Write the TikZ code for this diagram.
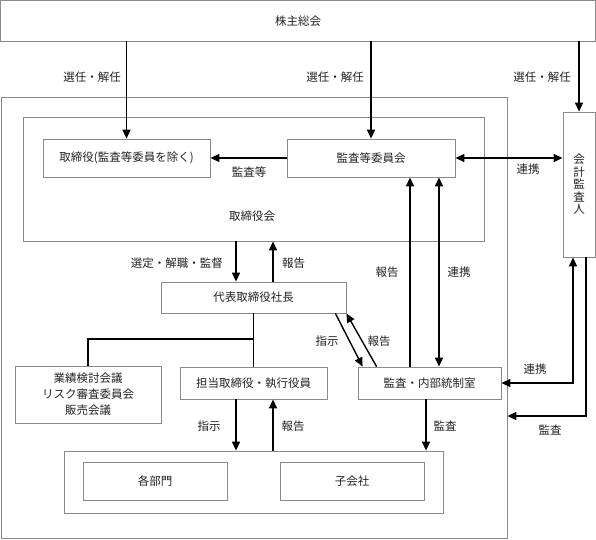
\documentclass[tikz,border=0pt]{standalone}
\usepackage{fontspec}
\setmainfont{Noto Sans CJK JP}
\usetikzlibrary{arrows.meta,calc}
\definecolor{boxgray}{HTML}{8A8A8A}
\definecolor{txt}{HTML}{222222}
\newcommand\jfont{\fontsize{11.5}{16}\selectfont}
\begin{document}
\begin{tikzpicture}[x=1pt,y=-1pt,
  box/.style={draw=boxgray, line width=0.8pt, inner sep=0pt, font=\jfont, text=txt, align=center},
  arr/.style={line width=1.4pt, -{Triangle[length=9pt,width=8pt]}},
  darr/.style={line width=1.4pt, {Triangle[length=9pt,width=8pt]}-{Triangle[length=9pt,width=8pt]}},
  ln/.style={line width=1.4pt},
  lbl/.style={font=\jfont, text=txt, inner sep=0pt}]
\useasboundingbox (0,0) rectangle (596,539);
% boxes
\node[box, minimum width=595, minimum height=40.5] (soukai) at (298,20.75) {株主総会};
\node[box, minimum width=506, minimum height=441] (outer) at (254,317.5) {};
\node[box, minimum width=461, minimum height=124] (board) at (253.5,179) {};
\node[box, minimum width=167, minimum height=38] (tor) at (126.5,158) {取締役(監査等委員を除く)};
\node[box, minimum width=168, minimum height=38] (kansa) at (371,158) {監査等委員会};
\node[box, minimum width=32, minimum height=145, font=\fontsize{11.5}{12.5}\selectfont] (auditor) at (579,184.5) {会\\計\\監\\査\\人};
\node[box, minimum width=185, minimum height=31] (ceo) at (253.5,297.5) {代表取締役社長};
\node[box, minimum width=146, minimum height=57] (meet) at (88,394.5) {業績検討会議\\リスク審査委員会\\販売会議};
\node[box, minimum width=147, minimum height=32] (exec) at (253.5,383) {担当取締役・執行役員};
\node[box, minimum width=143, minimum height=32] (naibu) at (429.5,383) {監査・内部統制室};
\node[box, minimum width=379, minimum height=62] (group) at (253.5,482) {};
\node[box, minimum width=144, minimum height=38] (bumon) at (155,481) {各部門};
\node[box, minimum width=144, minimum height=38] (kogaisha) at (352,481) {子会社};
% helper coordinates
\coordinate (xa) at (236,0);
\coordinate (xb) at (273,0);
\coordinate (xc) at (410,0);
\coordinate (xd) at (439,0);
\coordinate (xe) at (573,0);
\coordinate (xf) at (586,0);
\coordinate (xg) at (426,0);
\coordinate (yb) at (0,339);
\coordinate (yd) at (0,416);
% connectors
\draw[arr] (soukai.south -| tor.north) -- (tor.north);
\draw[arr] (soukai.south -| kansa.north) -- (kansa.north);
\draw[arr] (soukai.south -| auditor.north) -- (auditor.north);
\draw[arr] (kansa.west) -- (tor.east);
\draw[darr] (kansa.east) -- (auditor.west |- kansa.east);
\draw[arr] (xa |- board.south) -- (xa |- ceo.north);
\draw[arr] (xb |- ceo.north) -- (xb |- board.south);
\draw[ln] (ceo.south) -- (exec.north);
\draw[ln] (ceo.south |- yb) -| (meet.north);
\draw[arr] ($(ceo.south east)+(-11,0)$) -- ($(naibu.north west)+(5,0)$);
\draw[arr] ($(naibu.north west)+(19,0)$) -- (ceo.south east);
\draw[arr] (xc |- naibu.north) -- (xc |- kansa.south);
\draw[darr] (xd |- kansa.south) -- (xd |- naibu.north);
\draw[darr] (naibu.east) -- (xe |- naibu.east) -- (xe |- auditor.south);
\draw[arr] (xf |- auditor.south) -- (xf |- yd) -- (outer.east |- yd);
\draw[arr] (xa |- exec.south) -- (xa |- group.north);
\draw[arr] (xb |- group.north) -- (xb |- exec.south);
\draw[arr] (xg |- naibu.south) -- (xg |- group.north);
% labels
\node[lbl, anchor=east] (l1) at (121,77) {選任・解任};
\node[lbl, anchor=east] (l2) at (364,77) {選任・解任};
\node[lbl, anchor=east] (l3) at (571,77) {選任・解任};
\node[lbl] (l4) at (249,172) {監査等};
\node[lbl] (l5) at (528,169) {連携};
\node[lbl] (l6) at (252,216) {取締役会};
\node[lbl, anchor=east] (l7) at (223,263) {選定・解職・監督};
\node[lbl, anchor=west] (l8) at (282,263) {報告};
\node[lbl] (l9) at (327,341) {指示};
\node[lbl] (l10) at (379,341) {報告};
\node[lbl] (l11) at (387,272) {報告};
\node[lbl] (l12) at (459,272) {連携};
\node[lbl] (l13) at (535,369) {連携};
\node[lbl] (l14) at (550,430) {監査};
\node[lbl] (l15) at (209,426) {指示};
\node[lbl] (l16) at (293,426) {報告};
\node[lbl] (l17) at (445,426) {監査};
\end{tikzpicture}
\end{document}
